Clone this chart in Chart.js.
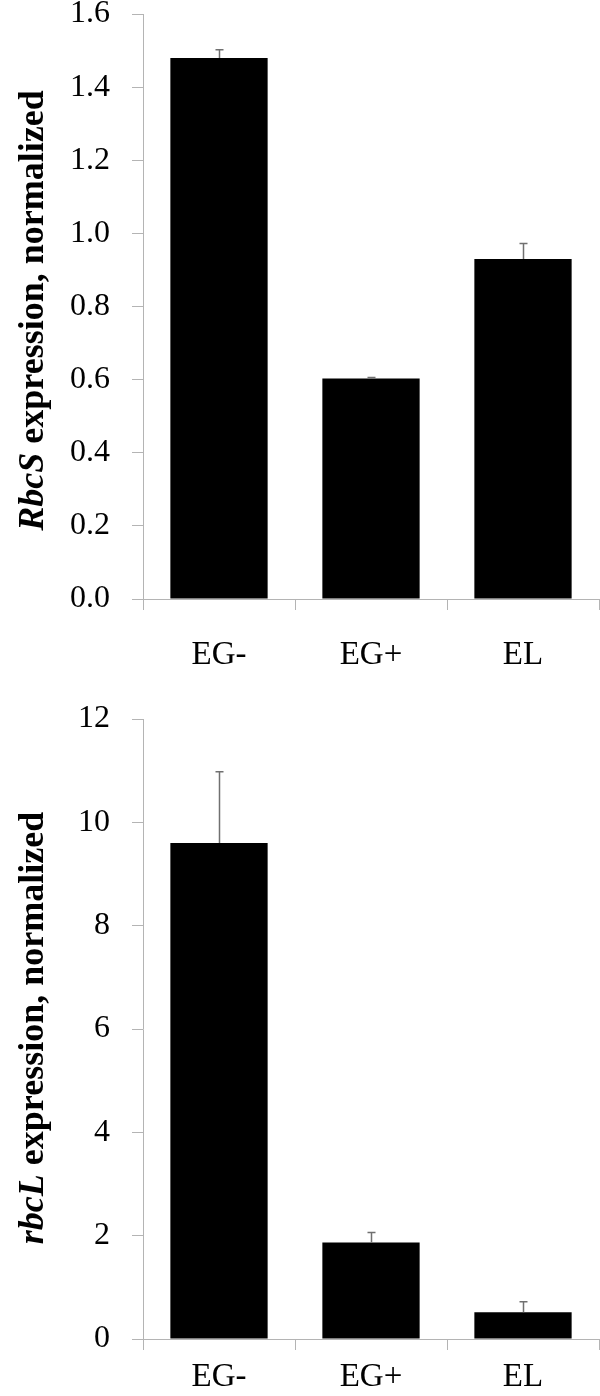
<!DOCTYPE html>
<html>
<head>
<meta charset="utf-8">
<script src="https://cdn.jsdelivr.net/npm/chart.js@4/dist/chart.umd.min.js"></script>
<style>
body{margin:0;background:#fff;}
.caja{position:relative;width:600px;height:698px;overflow:hidden;}
canvas{display:block;}
</style>
</head>
<body>
<div class="caja"><canvas id="graf1" width="600" height="698"></canvas></div>
<div class="caja"><canvas id="graf2" width="600" height="698"></canvas></div>
<script>
var categorias=['EG-','EG+','EL'];
var rbcsValores=[1.48,0.603,0.93];
var rbcsErrores=[0.022,0.003,0.042];
var rbclValores=[9.6,1.87,0.52];
var rbclErrores=[1.38,0.19,0.2];
var rbcsTitulo=['RbcS',' expression, normalized'];
var rbclTitulo=['rbcL',' expression, normalized'];

var gris='#b4b4b4';
var fuente="'Liberation Serif'";

var barrasError={
	id:'barrasError',
	afterDatasetsDraw:function(chart,args,opts){
		var ctx=chart.ctx;
		var meta=chart.getDatasetMeta(0);
		var ys=chart.scales.y;
		var vals=chart.data.datasets[0].data;
		ctx.save();
		ctx.strokeStyle='#707070';
		ctx.lineWidth=1.5;
		meta.data.forEach(function(bar,i){
			var x=Math.round(bar.x)+0.5;
			var y0=ys.getPixelForValue(vals[i]);
			var y1=ys.getPixelForValue(vals[i]+opts.errores[i]);
			ctx.beginPath();
			ctx.moveTo(x,y0);
			ctx.lineTo(x,y1);
			ctx.moveTo(x-4,y1);
			ctx.lineTo(x+4,y1);
			ctx.stroke();
		});
		ctx.restore();
	}
};

var tituloY={
	id:'tituloY',
	afterDraw:function(chart,args,opts){
		var ctx=chart.ctx;
		var a=chart.chartArea;
		var f1='italic bold 36px '+fuente;
		var f2='bold 36px '+fuente;
		ctx.save();
		ctx.font=f1;
		var w1=ctx.measureText(opts.texto[0]).width;
		ctx.font=f2;
		var w2=ctx.measureText(opts.texto[1]).width;
		ctx.translate(opts.x,(a.top+a.bottom)/2+opts.dy);
		ctx.rotate(-Math.PI/2);
		ctx.fillStyle='#000';
		ctx.textBaseline='middle';
		ctx.textAlign='left';
		var ini=-(w1+w2)/2;
		ctx.font=f1;
		ctx.fillText(opts.texto[0],ini,0);
		ctx.font=f2;
		ctx.fillText(opts.texto[1],ini+w1,0);
		ctx.restore();
	}
};

function graficar(id,valores,errores,titulo,max,paso,decimales,arriba,altoX,sepX,dy){
	return new Chart(document.getElementById(id),{
		type:'bar',
		data:{
			labels:categorias,
			datasets:[{
				data:valores,
				backgroundColor:'#000',
				borderWidth:0,
				categoryPercentage:1,
				barPercentage:0.64
			}]
		},
		options:{
			responsive:false,
			animation:false,
			layout:{padding:{top:arriba,right:1,left:0,bottom:0}},
			plugins:{
				legend:{display:false},
				tooltip:{enabled:false},
				barrasError:{errores:errores},
				tituloY:{texto:titulo,x:34,dy:dy}
			},
			scales:{
				x:{
					grid:{display:true,drawOnChartArea:false,drawTicks:true,tickLength:11,color:gris,offset:true},
					border:{display:true,color:gris},
					ticks:{color:'#000',font:{family:fuente,size:33},padding:sepX},
					afterFit:function(s){s.height=altoX;s.paddingLeft=0;s.paddingRight=0;}
				},
				y:{
					min:0,max:max,
					grid:{drawOnChartArea:false,drawTicks:true,tickLength:11,color:gris},
					border:{display:true,color:gris},
					ticks:{stepSize:paso,color:'#000',font:{family:fuente,size:32},padding:22,
						callback:function(v){return v.toFixed(decimales);}},
					afterFit:function(s){s.width=143;s.paddingTop=0;s.paddingBottom=0;}
				}
			}
		},
		plugins:[barrasError,tituloY]
	});
}

function dibujar(){
	graficar('graf1',rbcsValores,rbcsErrores,rbcsTitulo,1.6,0.2,1,14,99,26,4);
	graficar('graf2',rbclValores,rbclErrores,rbclTitulo,12,2,0,21,57,8,-1);
}

Promise.all([
	document.fonts.load("32px 'Liberation Serif'"),
	document.fonts.load("bold 36px 'Liberation Serif'"),
	document.fonts.load("italic bold 36px 'Liberation Serif'")
]).then(dibujar,dibujar);
</script>
</body>
</html>
